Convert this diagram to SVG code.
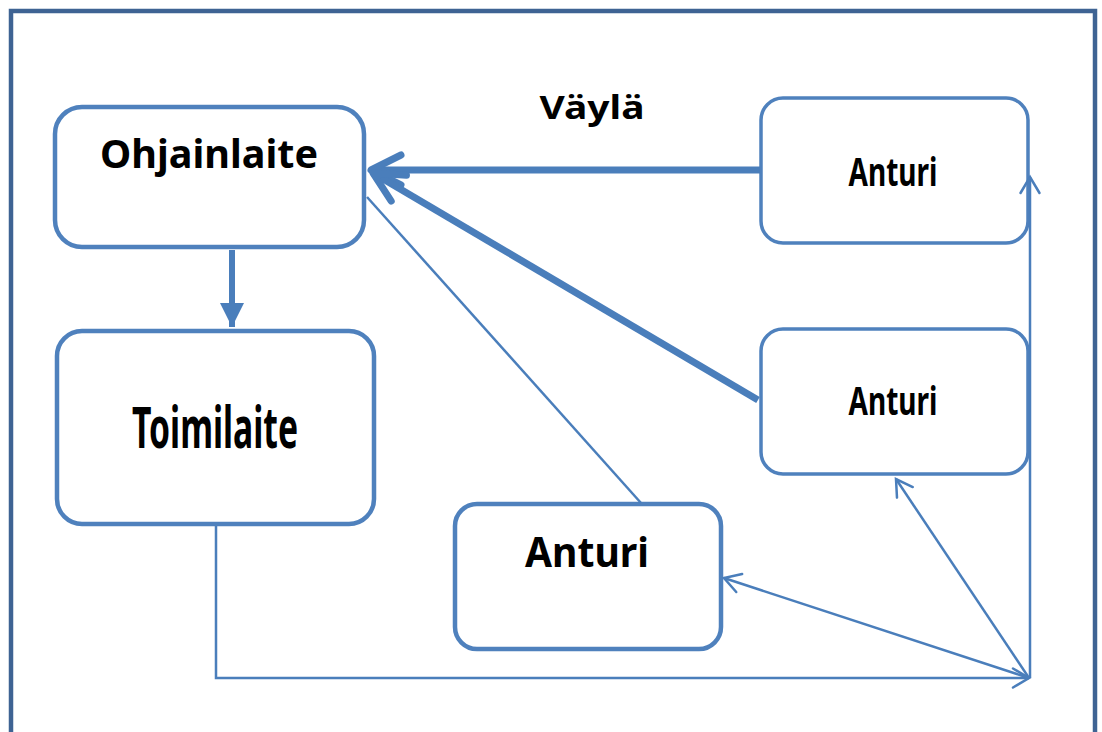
<svg xmlns="http://www.w3.org/2000/svg" width="1102" height="732" viewBox="0 0 1102 732">
  <style>
    .box { fill: #ffffff; stroke: #4F81BD; stroke-width: 4.5; }
    .box-thin { fill: #ffffff; stroke: #4F81BD; stroke-width: 3.5; }
    .label { font-family: "Noto Sans", "Liberation Sans", sans-serif; font-weight: bold; fill: #000000; text-anchor: middle; }
    .bus { fill: none; stroke: #4A7EBB; stroke-width: 7; }
    .wire { fill: none; stroke: #4A7EBB; stroke-width: 2.5; }
    .head-thick { fill: none; stroke: #4A7EBB; stroke-width: 7; stroke-linecap: round; stroke-linejoin: round; }
    .head-thin { fill: none; stroke: #4A7EBB; stroke-width: 2.5; stroke-linecap: round; stroke-linejoin: miter; }
  </style>
  <defs>
    <marker id="chevron-thick" markerUnits="userSpaceOnUse" orient="auto" refX="0" refY="0" markerWidth="40" markerHeight="40" viewBox="-36 -20 40 40" overflow="visible">
      <path class="head-thick" d="M -30 -15 L 0 0 L -30 15"/>
    </marker>
    <marker id="chevron-thin" markerUnits="userSpaceOnUse" orient="auto" refX="0" refY="0" markerWidth="24" markerHeight="24" viewBox="-20 -12 24 24" overflow="visible">
      <path class="head-thin" d="M -16 -9.5 L 0 0 L -16 9.5"/>
    </marker>
    <marker id="triangle" markerUnits="userSpaceOnUse" orient="auto" refX="0" refY="0" markerWidth="30" markerHeight="30" viewBox="-26 -14 30 28" overflow="visible">
      <path d="M -24 -12 L 0 0 L -24 12 Z" fill="#4A7EBB"/>
    </marker>
  </defs>

  <!-- outer frame -->
  <rect x="11" y="11" width="1084" height="760" fill="#ffffff" stroke="#3E6393" stroke-width="4.5"/>

  <text class="label" x="592" y="119" font-size="32" textLength="105" lengthAdjust="spacingAndGlyphs">Väylä</text>

  <g id="ohjainlaite">
    <rect class="box" x="55" y="107" width="309" height="140" rx="27"/>
    <text class="label" x="209" y="168" font-size="39" textLength="218" lengthAdjust="spacingAndGlyphs">Ohjainlaite</text>
  </g>

  <g id="toimilaite">
    <rect class="box" x="57" y="331" width="317" height="193" rx="25"/>
    <text class="label" x="215" y="448" font-size="57" textLength="166" lengthAdjust="spacingAndGlyphs">Toimilaite</text>
  </g>

  <g id="anturi-top">
    <rect class="box-thin" x="761" y="98" width="267" height="145" rx="22"/>
    <text class="label" x="893" y="186" font-size="40" textLength="89" lengthAdjust="spacingAndGlyphs">Anturi</text>
  </g>

  <g id="anturi-middle">
    <rect class="box-thin" x="761" y="329" width="267" height="145" rx="22"/>
    <text class="label" x="893" y="415" font-size="40" textLength="89" lengthAdjust="spacingAndGlyphs">Anturi</text>
  </g>

  <g id="anturi-bottom">
    <rect class="box" x="455" y="504" width="266" height="145" rx="22"/>
    <text class="label" x="587" y="567" font-size="42" textLength="124" lengthAdjust="spacingAndGlyphs">Anturi</text>
  </g>

  <!-- connectors -->
  <g id="connectors">
    <!-- controller to actuator -->
    <line class="bus" x1="232" y1="250" x2="232" y2="327" marker-end="url(#triangle)" style="stroke-width:6"/>
    <!-- bus from sensors to controller -->
    <line class="bus" x1="760" y1="170" x2="371" y2="170" marker-end="url(#chevron-thick)"/>
    <line class="bus" x1="758" y1="400" x2="373" y2="173" marker-end="url(#chevron-thick)"/>
    <!-- direct sensor wire -->
    <line class="wire" x1="367" y1="197" x2="641" y2="503"/>
    <!-- actuator feedback loop -->
    <polyline class="wire" points="216,526 216,678 1029,678" marker-end="url(#chevron-thin)"/>
    <line class="wire" x1="1030" y1="678" x2="1030" y2="177" marker-end="url(#chevron-thin)"/>
    <line class="wire" x1="1029" y1="678" x2="896" y2="479" marker-end="url(#chevron-thin)"/>
    <line class="wire" x1="1029" y1="678" x2="724" y2="578" marker-end="url(#chevron-thin)"/>
  </g>
</svg>
